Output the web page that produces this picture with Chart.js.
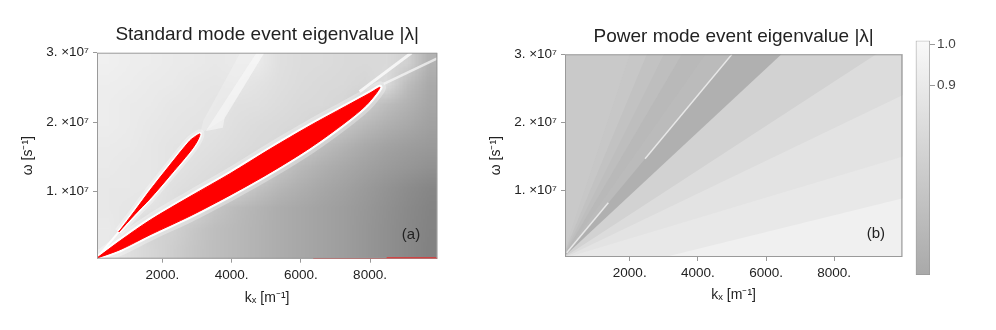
<!DOCTYPE html>
<html>
<head>
<meta charset="utf-8">
<script src="https://cdn.jsdelivr.net/npm/chart.js@4.4.1/dist/chart.umd.min.js"></script>
<style>
  html, body { margin: 0; padding: 0; background: #fff; }
  body { width: 996px; height: 330px; position: relative; overflow: hidden; }
  .panel { position: absolute; top: 0; height: 330px; }
</style>
</head>
<body>
<div class="panel" style="left:0;width:470px"><canvas id="standardChart"></canvas></div>
<div class="panel" style="left:470px;width:442px"><canvas id="powerChart"></canvas></div>
<div class="panel" style="left:880px;width:116px"><canvas id="colorbarChart"></canvas></div>
<script>
// k_x in 1/m, omega in units of 1e7 1/s, values are |lambda|
const stdKxRange = [113, 9944]
const powKxRange = [100, 10000]
const stdOmegaRange = [0.036, 3.0]
const powOmegaRange = [0.029, 3.0]
const kxTicks = [2000, 4000, 6000, 8000]
const omegaTicks = [1, 2, 3]
const colorbarRange = [0.441, 1.008]
const colorbarTicks = [0.9, 1.0]

// standard mode: |lambda| sampled on a coarse grid (cell centres)
const stdGridKx = [409, 1028, 1647, 2266, 2884, 3503, 4122, 4741, 5359, 5978, 6597, 7216, 7834, 8453, 9072, 9691]
const stdGridOmega = [2.85, 2.55, 2.26, 1.96, 1.66, 1.37, 1.07, 0.77, 0.48, 0.18]
const stdGridLambda = [
  [0.94, 0.93, 0.92, 0.91, 0.90, 0.89, 0.90, 0.90, 0.83, 0.81, 0.80, 0.79, 0.78, 0.79, 0.72, 0.50],
  [0.93, 0.92, 0.91, 0.90, 0.88, 0.87, 0.88, 0.85, 0.82, 0.80, 0.79, 0.78, 0.76, 0.80, 0.58, 0.45],
  [0.92, 0.91, 0.90, 0.88, 0.87, 0.86, 0.84, 0.83, 0.81, 0.79, 0.78, 0.76, 0.68, 0.58, 0.50, 0.42],
  [0.92, 0.91, 0.89, 0.87, 0.86, 0.85, 0.82, 0.80, 0.79, 0.77, 0.74, 0.64, 0.55, 0.49, 0.44, 0.38],
  [0.91, 0.90, 0.88, 0.86, 0.85, 0.83, 0.81, 0.79, 0.78, 0.68, 0.58, 0.51, 0.45, 0.40, 0.36, 0.33],
  [0.90, 0.89, 0.88, 0.86, 0.83, 0.81, 0.79, 0.76, 0.64, 0.55, 0.49, 0.44, 0.39, 0.35, 0.31, 0.28],
  [0.89, 0.89, 0.88, 0.83, 0.81, 0.79, 0.73, 0.62, 0.54, 0.48, 0.43, 0.39, 0.34, 0.29, 0.24, 0.20],
  [0.89, 0.87, 0.85, 0.82, 0.74, 0.64, 0.57, 0.52, 0.47, 0.43, 0.40, 0.36, 0.32, 0.27, 0.22, 0.18],
  [0.90, 0.86, 0.74, 0.72, 0.65, 0.59, 0.55, 0.51, 0.47, 0.43, 0.40, 0.36, 0.31, 0.26, 0.21, 0.17],
  [0.89, 0.82, 0.76, 0.70, 0.64, 0.59, 0.55, 0.51, 0.47, 0.43, 0.40, 0.36, 0.31, 0.26, 0.21, 0.16]
]

// standard mode: regions with |lambda| > 1 (red)
const bigBandKx = [110, 800, 1645, 2800, 3956, 5100, 6267, 7300, 8000, 8289, 7900, 7300, 6267, 5100, 3956, 2800, 1645, 800]
const bigBandOmega = [0.045, 0.30, 0.59, 0.93, 1.26, 1.61, 1.95, 2.23, 2.42, 2.50, 2.25, 2.00, 1.63, 1.27, 0.95, 0.65, 0.38, 0.17]
const thinBandKx = [741, 1200, 1645, 2200, 2800, 3000, 3089, 3000, 2800, 2200, 1645, 1200]
const thinBandOmega = [0.42, 0.72, 1.02, 1.37, 1.735, 1.81, 1.83, 1.72, 1.575, 1.22, 0.90, 0.67]
const redEdgeKx = [6360, 9944]
const redEdgeThickKx = [8480, 9944]

// standard mode: bright ridges
const ridgeKx = [3090, 3800, 4950, 4250, 3180]
const ridgeOmega = [1.83, 2.05, 3.0, 3.0, 2.02]
const ridgeCoreKx = [3250, 3750, 3800, 4950, 4720]
const ridgeCoreOmega = [1.87, 1.92, 2.06, 3.0, 3.0]
const tipRidgeKx = [7700, 9200]
const tipRidgeOmega = [2.44, 3.0]
const tipRidge2Kx = [8400, 9944]
const tipRidge2Omega = [2.55, 2.92]
const originRidgeKx = [113, 741]
const originRidgeOmega = [0.05, 0.42]

// power mode: wedges bounded by phase velocity rays omega/k_x (m/s)
const powRayVelocity = [15000, 12000, 10000, 8500, 7100, 6000, 4650, 3250, 2400, 1500]
const powBandLambda = [0.67, 0.65, 0.62, 0.59, 0.55, 0.57, 0.49, 0.73, 0.80, 0.85, 0.89]
const powFloorKx = [10500, 2800, 10500]
const powFloorOmega = [0.0, 0.0, 0.95]
const powFloorLambda = 0.94
const powStreakVelocity = 6000
const powStreakKx = [[150, 1372], [2450, 5000]]

const FONT = '"Liberation Sans", Arial, sans-serif'
Chart.defaults.font.family = FONT
Chart.defaults.color = '#222'

const shade = (lambda) => {
  const g = Math.max(0, Math.min(255, Math.round(107 + 141 * lambda)))
  return `rgb(${g},${g},${g})`
}

const points = (kx, omega, closed) => {
  const pts = kx.map((k, i) => ({ x: k, y: omega[i] }))
  if (closed) pts.push({ ...pts[0] })
  return pts
}

const lineSet = (data, style) => ({
  data, showLine: true, pointRadius: 0, pointHoverRadius: 0, tension: 0,
  borderWidth: 0, fill: false, ...style
})

const heatPlugin = {
  id: 'heat',
  beforeDatasetsDraw(chart, args, opts) {
    const { ctx, chartArea: a, scales: { x, y } } = chart
    ctx.save()
    ctx.beginPath()
    ctx.rect(a.left, a.top, a.width, a.height)
    ctx.clip()
    if (opts.background != null) {
      ctx.fillStyle = shade(opts.background)
      ctx.fillRect(a.left, a.top, a.width, a.height)
    }
    if (opts.grid) {
      const { kx, omega, lambda } = opts.grid
      const nx = kx.length, ny = omega.length
      const off = document.createElement('canvas')
      off.width = nx
      off.height = ny
      const octx = off.getContext('2d')
      const img = octx.createImageData(nx, ny)
      lambda.forEach((row, j) => row.forEach((v, i) => {
        const g = Math.max(0, Math.min(255, Math.round(107 + 141 * v)))
        const k = (j * nx + i) * 4
        img.data[k] = img.data[k + 1] = img.data[k + 2] = g
        img.data[k + 3] = 255
      }))
      octx.putImageData(img, 0, 0)
      const dx = (kx[nx - 1] - kx[0]) / (nx - 1) / 2
      const dy = (omega[0] - omega[ny - 1]) / (ny - 1) / 2
      const x0 = x.getPixelForValue(kx[0] - dx), x1 = x.getPixelForValue(kx[nx - 1] + dx)
      const y0 = y.getPixelForValue(omega[0] + dy), y1 = y.getPixelForValue(omega[ny - 1] - dy)
      ctx.imageSmoothingEnabled = true
      ctx.drawImage(off, x0, y0, x1 - x0, y1 - y0)
    }
    ctx.restore()
  },
  afterDatasetsDraw(chart, args, opts) {
    const { ctx, chartArea: a, scales: { x, y } } = chart
    ctx.save()
    ctx.strokeStyle = '#9a9a9a'
    ctx.lineWidth = 1
    ctx.strokeRect(a.left + 0.5, a.top + 0.5, a.width - 1, a.height - 1)
    if (opts.tag) {
      ctx.font = '15px ' + FONT
      ctx.fillStyle = '#222'
      ctx.textAlign = 'center'
      ctx.textBaseline = 'middle'
      ctx.fillText(opts.tag.text, x.getPixelForValue(opts.tag.kx), y.getPixelForValue(opts.tag.omega))
    }
    ctx.restore()
  }
}

const panelOptions = (cfg) => ({
  responsive: true,
  maintainAspectRatio: false,
  animation: false,
  events: [],
  layout: { padding: { left: 0, right: cfg.padRight, top: cfg.padTop, bottom: 0 } },
  plugins: {
    legend: { display: false },
    tooltip: { enabled: false },
    title: {
      display: true, text: cfg.title, fullSize: false, color: '#222',
      font: { size: 19, weight: 'normal' }, padding: { top: 0, bottom: cfg.titleGap }
    },
    heat: cfg.heat
  },
  scales: {
    x: {
      type: 'linear', min: cfg.kxRange[0], max: cfg.kxRange[1],
      afterBuildTicks: (s) => { s.ticks = kxTicks.map(v => ({ value: v })) },
      afterFit: (s) => { s.height = cfg.xAxisHeight },
      ticks: { callback: (v) => v + '.', font: { size: 13.5 }, color: '#222', padding: 4, maxRotation: 0 },
      grid: { drawOnChartArea: false, drawTicks: true, tickLength: 4, color: '#999' },
      border: { display: false },
      title: { display: true, text: 'kₓ [m⁻¹]', font: { size: 14 }, color: '#222', padding: { top: 0, bottom: cfg.xTitlePad } }
    },
    y: {
      type: 'linear', min: cfg.omegaRange[0], max: cfg.omegaRange[1],
      afterBuildTicks: (s) => { s.ticks = omegaTicks.map(v => ({ value: v })) },
      afterFit: (s) => { s.width = cfg.yAxisWidth },
      ticks: { callback: (v) => v + '. ×10⁷', font: { size: 13.5 }, color: '#222', padding: 4 },
      grid: { drawOnChartArea: false, drawTicks: true, tickLength: 4, color: '#999' },
      border: { display: false },
      title: { display: true, text: 'ω [s⁻¹]', font: { size: 14 }, color: '#222', padding: { top: cfg.yTitlePad, bottom: 0 } }
    }
  }
})

// ---- standard mode panel
const smooth = 0.3
const stdDatasets = [
  lineSet(points(redEdgeThickKx, redEdgeThickKx.map(() => stdOmegaRange[0])), { borderColor: '#ff0000', borderWidth: 3, order: 1 }),
  lineSet(points(redEdgeKx, redEdgeKx.map(() => stdOmegaRange[0])), { borderColor: '#ff0000', borderWidth: 1.5, order: 2 }),
  lineSet(points(bigBandKx, bigBandOmega, true), { fill: 'shape', backgroundColor: '#ff0000', borderColor: '#ff0000', borderWidth: 1, tension: smooth, order: 3 }),
  lineSet(points(thinBandKx, thinBandOmega, true), { fill: 'shape', backgroundColor: '#ff0000', borderColor: '#ff0000', borderWidth: 1, tension: smooth, order: 4 }),
  lineSet(points(bigBandKx, bigBandOmega, true), { borderColor: 'rgba(255,255,255,0.95)', borderWidth: 5, tension: smooth, order: 5 }),
  lineSet(points(thinBandKx, thinBandOmega, true), { borderColor: 'rgba(255,255,255,0.9)', borderWidth: 4, tension: smooth, order: 6 }),
  lineSet(points(bigBandKx, bigBandOmega, true), { borderColor: 'rgba(255,255,255,0.3)', borderWidth: 12, tension: smooth, order: 7 }),
  lineSet(points(thinBandKx, thinBandOmega, true), { borderColor: 'rgba(255,255,255,0.3)', borderWidth: 9, tension: smooth, order: 8 }),
  lineSet(points(tipRidgeKx, tipRidgeOmega), { borderColor: 'rgba(250,250,250,0.85)', borderWidth: 3, order: 9 }),
  lineSet(points(tipRidge2Kx, tipRidge2Omega), { borderColor: 'rgba(250,250,250,0.7)', borderWidth: 2.5, order: 10 }),
  lineSet(points(originRidgeKx, originRidgeOmega), { borderColor: 'rgba(255,255,255,0.9)', borderWidth: 2, order: 11 }),
  lineSet(points(ridgeCoreKx, ridgeCoreOmega, true), { fill: 'shape', backgroundColor: 'rgba(252,252,252,0.5)', order: 12 }),
  lineSet(points(ridgeKx, ridgeOmega, true), { fill: 'shape', backgroundColor: 'rgba(250,250,250,0.25)', order: 13 })
]

new Chart(document.getElementById('standardChart'), {
  type: 'scatter',
  data: { datasets: stdDatasets },
  options: panelOptions({
    title: 'Standard mode event eigenvalue |λ|',
    kxRange: stdKxRange, omegaRange: stdOmegaRange,
    padRight: 32.7, padTop: 23, titleGap: 6.9,
    xAxisHeight: 71.3, xTitlePad: 23.3, yAxisWidth: 97, yTitlePad: 19.6,
    heat: { grid: { kx: stdGridKx, omega: stdGridOmega, lambda: stdGridLambda }, tag: { text: '(a)', kx: 9184, omega: 0.377 } }
  }),
  plugins: [heatPlugin]
})

// ---- power mode panel
const rayWedge = (v) => {
  const far = Math.max(powKxRange[1] * 1.05, 3.3e7 / v)
  // region below the ray omega = v * k_x, listed out of x order so every vertex is kept
  return [{ x: far, y: 0 }, { x: 0, y: 0 }, { x: far, y: v * far / 1e7 }]
}
const powDatasets = []
powRayVelocity.forEach((v, i) => {
  powDatasets.push(lineSet(rayWedge(v), { fill: 'shape', backgroundColor: shade(powBandLambda[i + 1]), order: 100 - i }))
})
powDatasets.push(lineSet(points(powFloorKx, powFloorOmega), { fill: 'shape', backgroundColor: shade(powFloorLambda), order: 20 }))
powStreakKx.forEach((seg, i) => {
  powDatasets.push(lineSet(points(seg, seg.map(k => powStreakVelocity * k / 1e7)), { borderColor: 'rgba(236,236,236,0.9)', borderWidth: 1.5, order: 10 + i }))
})

new Chart(document.getElementById('powerChart'), {
  type: 'scatter',
  data: { datasets: powDatasets },
  options: panelOptions({
    title: 'Power mode event eigenvalue |λ|',
    kxRange: powKxRange, omegaRange: powOmegaRange,
    padRight: 9.7, padTop: 25, titleGap: 6.5,
    xAxisHeight: 73, xTitlePad: 26, yAxisWidth: 95, yTitlePad: 17.6,
    heat: { background: powBandLambda[0], tag: { text: '(b)', kx: 9223, omega: 0.367 } }
  }),
  plugins: [heatPlugin]
})

// ---- colour bar
new Chart(document.getElementById('colorbarChart'), {
  type: 'bar',
  data: {
    labels: ['|λ|'],
    datasets: [{
      data: [colorbarRange],
      barPercentage: 1, categoryPercentage: 1,
      borderColor: '#999', borderWidth: 1, borderSkipped: false,
      backgroundColor: (c) => {
        const { chart } = c
        if (!chart.chartArea) return '#ccc'
        const y = chart.scales.y
        const g = chart.ctx.createLinearGradient(0, y.getPixelForValue(colorbarRange[1]), 0, y.getPixelForValue(colorbarRange[0]))
        g.addColorStop(0, shade(colorbarRange[1]))
        g.addColorStop(1, shade(colorbarRange[0]))
        return g
      }
    }]
  },
  options: {
    responsive: true, maintainAspectRatio: false, animation: false, events: [],
    layout: { padding: { left: 35.7, right: 0, top: 40.7, bottom: 55 } },
    plugins: { legend: { display: false }, tooltip: { enabled: false } },
    scales: {
      x: { display: false },
      y: {
        position: 'right', min: colorbarRange[0], max: colorbarRange[1],
        afterBuildTicks: (s) => { s.ticks = colorbarTicks.map(v => ({ value: v })) },
        afterFit: (s) => { s.width = 66 },
        ticks: { callback: (v) => v.toFixed(1), font: { size: 13.5 }, color: '#444', padding: 2 },
        grid: { drawOnChartArea: false, drawTicks: true, tickLength: 5, color: '#999' },
        border: { display: false }
      }
    }
  }
})
</script>
</body>
</html>
